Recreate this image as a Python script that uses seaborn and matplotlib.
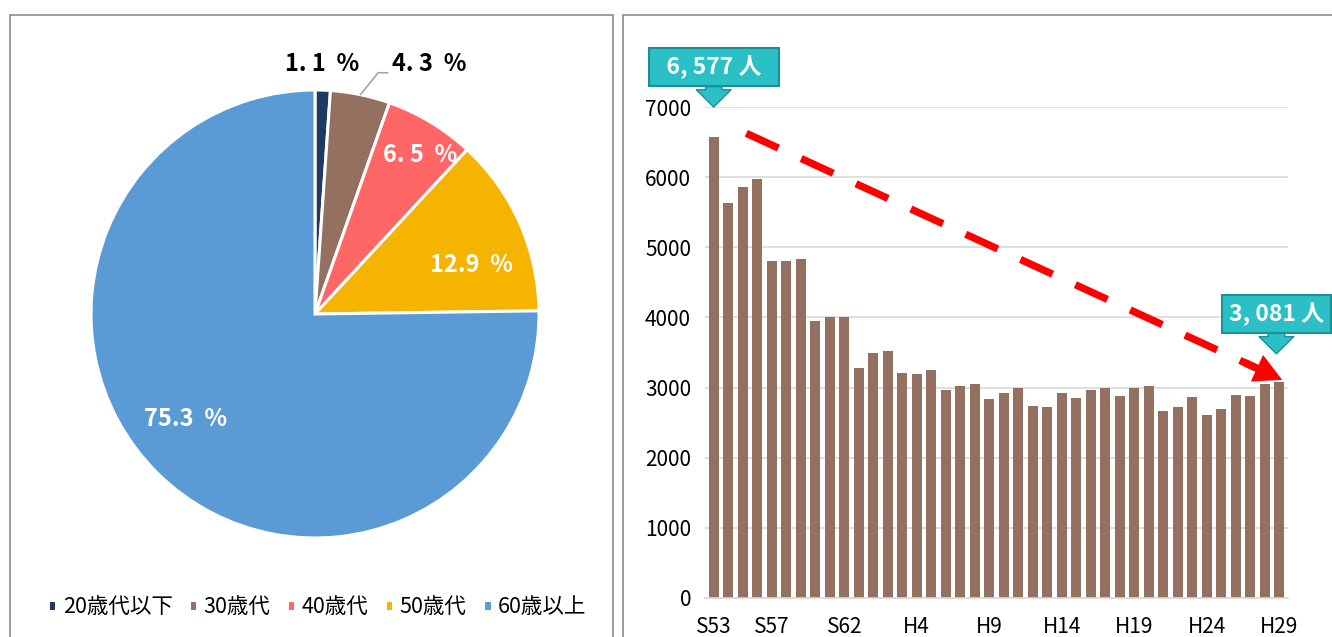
import numpy as np
import pandas as pd
import matplotlib
matplotlib.use('Agg')
import matplotlib.pyplot as plt
import seaborn as sns
from matplotlib.patches import Rectangle

# ---------------------------------------------
# Data
# ---------------------------------------------

# pie: share of workers by age group (%)
age_groups = ['20歳代以下', '30歳代', '40歳代', '50歳代', '60歳以上']
age_share = [1.1, 4.3, 6.5, 12.9, 75.3]
age_labels = ['1. 1  %', '4. 3  %', '6. 5  %', '12.9  %', '75.3  %']
age_colors = ['#1f3864', '#937060', '#ff6666', '#f4b400', '#5b9bd5']

# bars: number of workers per year (S53 .. H29)
years = ['S%d' % y for y in range(53, 64)] + ['H%d' % y for y in range(1, 30)]
workers = [6577, 5630, 5860, 5970, 4810, 4800, 4840, 3950, 4000, 4010,
           3280, 3500, 3520, 3210, 3200, 3250, 2960, 3020, 3050, 2840,
           2920, 3000, 2740, 2730, 2920, 2850, 2960, 3000, 2880, 2990,
           3020, 2670, 2730, 2870, 2610, 2700, 2900, 2880, 3050, 3081]
shown_years = ['S53', 'S57', 'S62', 'H4', 'H9', 'H14', 'H19', 'H24', 'H29']

df = pd.DataFrame({'year': years, 'workers': workers})

# ---------------------------------------------
# Style
# ---------------------------------------------
sns.set_theme(style='white')
plt.rcParams['font.family'] = ['Noto Sans CJK JP', 'DejaVu Sans']
plt.rcParams['text.color'] = 'black'

bar_color = '#937060'
teal = '#2bbfc6'
teal_dark = '#1f8f96'
grid_color = '#d9d9d9'

W, H = 1332, 637
fig = plt.figure(figsize=(W / 100, H / 100), dpi=100)

# panel frames
fig.patches.append(Rectangle((10 / W, -0.1), 603 / W, 1.1 - 15 / H, transform=fig.transFigure,
                             fill=False, ec='#8c8c8c', lw=1.2))
fig.patches.append(Rectangle((623 / W, -0.1), 0.6, 1.1 - 15 / H, transform=fig.transFigure,
                             fill=False, ec='#8c8c8c', lw=1.2))

# ---------------------------------------------
# Pie chart
# ---------------------------------------------
ax_pie = fig.add_axes([91 / W, 99 / H, 448 / W, 448 / H])
wedges, _ = ax_pie.pie(age_share, colors=age_colors, startangle=90, counterclock=False,
                       wedgeprops=dict(edgecolor='white', linewidth=2.2))
ax_pie.set_xlim(-1, 1)
ax_pie.set_ylim(-1, 1)
ax_pie.set_aspect('equal')

# label positions (in radius units) and colours
label_pos = [(0.03, 1.115), (0.51, 1.115), (0.47, 0.71), (0.70, 0.22), (-0.58, -0.47)]
label_col = ['black', 'black', 'white', 'white', 'white']
for txt, (lx, ly), c in zip(age_labels, label_pos, label_col):
    ax_pie.text(lx, ly, txt, ha='center', va='center', fontsize=17, fontweight='bold',
                color=c, clip_on=False)

# leader line for the 30s slice
cum = np.cumsum([0] + age_share)
mid = np.deg2rad(90 - (cum[1] + age_share[1] / 2) * 3.6)
ax_pie.plot([np.cos(mid), 0.282, 0.325], [np.sin(mid), 1.077, 1.077],
            color='#a6a6a6', lw=1.2, clip_on=False)

fig.legend(wedges, age_groups, loc='center', bbox_to_anchor=(317 / W, 1 - 607 / H),
           ncol=5, frameon=False, fontsize=15.5, handlelength=0.4, handleheight=0.4,
           handletextpad=0.3, columnspacing=0.75, borderpad=0)

# ---------------------------------------------
# Bar chart
# ---------------------------------------------
ax = fig.add_axes([705 / W, 39 / H, 583 / W, 491 / H])
sns.barplot(data=df, x='year', y='workers', order=years, color=bar_color,
            saturation=1, width=0.68, linewidth=0, ax=ax)
ax.set_xlim(-0.6, len(years) - 0.4)
ax.set_ylim(0, 7000)
ax.set_yticks(range(0, 7001, 1000))
ax.set_xticks([years.index(y) for y in shown_years])
ax.set_xticklabels(shown_years)
ax.set_xlabel('')
ax.set_ylabel('')
ax.yaxis.grid(True, color=grid_color, lw=1.2)
ax.set_axisbelow(True)
for s in ['top', 'right', 'left']:
    ax.spines[s].set_visible(False)
ax.spines['bottom'].set_color(grid_color)
ax.spines['bottom'].set_linewidth(1.2)
ax.tick_params(axis='both', length=0, labelsize=15, colors='black')
ax.tick_params(axis='y', pad=10)
ax.tick_params(axis='x', pad=13)

# red dashed trend arrow
x0, y0 = 2.25, 6625
x1, y1 = 39.2, 3110
t_end = 0.95
ax.plot([x0, x0 + (x1 - x0) * t_end], [y0, y0 + (y1 - y0) * t_end], color='red', lw=5.3,
        linestyle=(0, (4.8, 3.4)), dash_capstyle='butt', clip_on=False)
ax.annotate('', xy=(x1, y1), xytext=(x0 + (x1 - x0) * 0.93, y0 + (y1 - y0) * 0.93),
            arrowprops=dict(arrowstyle='simple,head_length=1.0,head_width=1.05,tail_width=0.27',
                            fc='red', ec='none', mutation_scale=20, shrinkA=0, shrinkB=0))

# callouts for first and last values
def fmt(v):
    return format(v, ',').replace(',', ', ') + ' 人'

callouts = [(0, 7000, '  ' + fmt(workers[0]) + '  '),
            (len(years) - 1.2, workers[-1] + 400, fmt(workers[-1]))]
for cx, cy, txt in callouts:
    ax.annotate(txt, xy=(cx, cy), xytext=(0, 40), textcoords='offset pixels',
                ha='center', va='center', fontsize=16.5, fontweight='bold', color='white',
                annotation_clip=False,
                bbox=dict(boxstyle='square,pad=0.3', fc=teal, ec=teal_dark, lw=1.5),
                arrowprops=dict(arrowstyle='simple,head_length=0.62,head_width=1.25,tail_width=0.6',
                                fc=teal, ec=teal_dark, lw=1, mutation_scale=20,
                                shrinkA=0, shrinkB=0))

fig.savefig('out.png', dpi=100)
